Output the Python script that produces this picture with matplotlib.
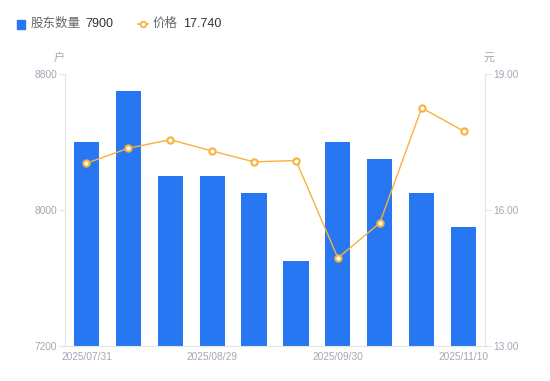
import matplotlib
matplotlib.use("Agg")
import matplotlib.pyplot as plt
from matplotlib.lines import Line2D
from matplotlib.patches import Rectangle

plt.rcParams['font.family'] = ['Liberation Sans', 'Noto Sans CJK SC', 'DejaVu Sans']

dates = ["2025/07/31", "2025/08/10", "2025/08/20", "2025/08/29", "2025/09/10",
         "2025/09/19", "2025/09/30", "2025/10/20", "2025/10/31", "2025/11/10"]
holders = [8400, 8700, 8200, 8200, 8100, 7700, 8400, 8300, 8100, 7900]
prices = [17.03, 17.36, 17.55, 17.30, 17.06, 17.09, 14.94, 15.71, 18.25, 17.74]
left_ticks = [7200, 8000, 8800]
right_ticks = [13.00, 16.00, 19.00]
shown_idx = [0, 3, 6, 9]

bar_color = "#2777f2"
line_color = "#f7b23b"
tick_color = "#a4a6b3"
axis_color = "#e3e4e8"

fig = plt.figure(figsize=(5.5, 3.81), dpi=100)
ax = fig.add_axes([0.119, 0.092, 0.762, 0.714])
ax2 = ax.twinx()

x = list(range(len(dates)))
ax.bar(x, holders, width=0.6, color=bar_color, zorder=2)
ax.set_ylim(left_ticks[0], left_ticks[-1])
ax.set_xlim(-0.5, len(dates) - 0.5)
ax.set_yticks(left_ticks)
ax.set_yticklabels([str(v) for v in left_ticks])
ax.set_xticks([x[i] for i in shown_idx])
ax.set_xticklabels([dates[i] for i in shown_idx])

ax2.plot(x, prices, color=line_color, lw=1.0, marker='o', ms=4.5,
         mfc='white', mec=line_color, mew=1.5, zorder=3)
ax2.set_ylim(right_ticks[0], right_ticks[-1])
ax2.set_yticks(right_ticks)
ax2.set_yticklabels([f"{v:.2f}" for v in right_ticks])

for a in (ax, ax2):
    for s in a.spines.values():
        s.set_visible(False)
    a.tick_params(colors=tick_color, labelsize=7.3, length=4, width=0.8)
    a.tick_params(axis='y', color=axis_color, labelcolor=tick_color)

ax.spines['left'].set_visible(True)
ax.spines['left'].set_color(axis_color)
ax.spines['bottom'].set_visible(True)
ax.spines['bottom'].set_color(axis_color)
ax2.spines['right'].set_visible(True)
ax2.spines['right'].set_color(axis_color)
ax.tick_params(axis='x', length=0, pad=4, labelcolor=tick_color)
ax.tick_params(axis='y', pad=2)
ax2.tick_params(axis='y', pad=2)

fig.text(59 / 550, 1 - 58 / 381, "户", color=tick_color, fontsize=8, ha='center', va='center')
fig.text(489 / 550, 1 - 58 / 381, "元", color=tick_color, fontsize=8, ha='center', va='center')

# legend
fig.patches.append(Rectangle((17 / 550, 1 - 29 / 381), 8 / 550, 9 / 381,
                             transform=fig.transFigure, color=bar_color))
fig.text(31 / 550, 1 - 24 / 381, "股东数量", color="#666666", fontsize=9, va='center')
fig.text(85 / 550, 1 - 24 / 381, str(holders[-1]), color="#333333", fontsize=9, va='center')
fig.lines.append(Line2D([138 / 550, 148 / 550], [1 - 24 / 381, 1 - 24 / 381],
                        transform=fig.transFigure, color=line_color, lw=1.2))
fig.lines.append(Line2D([143 / 550], [1 - 24 / 381], transform=fig.transFigure,
                        marker='o', ms=4, mfc='white', mec=line_color, mew=1.3))
fig.text(153 / 550, 1 - 24 / 381, "价格", color="#666666", fontsize=9, va='center')
fig.text(183 / 550, 1 - 24 / 381, f"{prices[-1]:.3f}", color="#333333", fontsize=9, va='center')

fig.savefig("out.png", dpi=100)
